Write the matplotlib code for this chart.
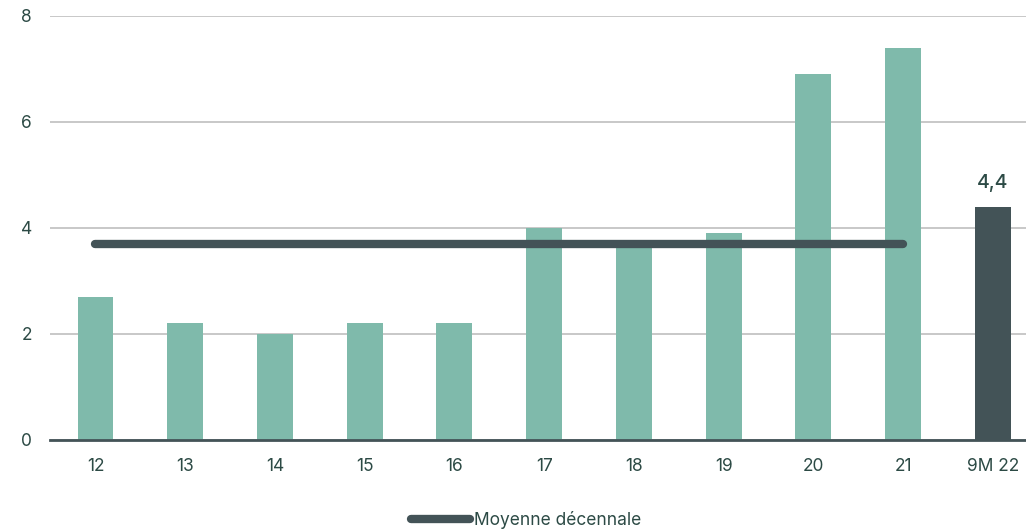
import matplotlib
matplotlib.use("Agg")
import matplotlib.pyplot as plt
import numpy as np

categories = ["12", "13", "14", "15", "16", "17", "18", "19", "20", "21", "9M 22"]
values = [2.7, 2.2, 2.0, 2.2, 2.2, 4.0, 3.7, 3.9, 6.9, 7.4, 4.4]
decade_avg = 3.7
avg_span = ["12", "21"]
highlight_label = "4,4"

BAR_COLOR = "#7fbaab"
DARK = "#435357"
TEXT = "#2c4a45"
GRID = "#bfbfbf"

plt.rcParams["font.family"] = ["Inter", "DejaVu Sans"]

fig = plt.figure(figsize=(10.26, 5.30), dpi=100)
ax = fig.add_axes([50 / 1026, 90 / 530, 976 / 1026, 424 / 530])

x = np.arange(len(categories))
colors = [BAR_COLOR] * (len(values) - 1) + [DARK]
ax.bar(x, values, width=0.40, color=colors, zorder=2)

# ten-year average, drawn over the bars
i0, i1 = categories.index(avg_span[0]), categories.index(avg_span[1])
ax.plot([x[i0], x[i1]], [decade_avg, decade_avg], color=DARK, lw=6,
        solid_capstyle="round", zorder=3, label="Moyenne décennale")

ax.text(x[-1], values[-1] + 0.27, highlight_label, ha="center", va="bottom",
        fontsize=14, fontweight="medium", color=TEXT)

ax.set_xlim(-0.507, 10.37)
ax.set_ylim(0, 8)
ax.set_yticks([0, 2, 4, 6, 8])
ax.set_xticks(x)
ax.set_xticklabels(categories)
ax.yaxis.grid(True, color=GRID, lw=1.2, zorder=0)
ax.set_axisbelow(True)
for side in ["top", "right", "left"]:
    ax.spines[side].set_visible(False)
ax.spines["bottom"].set_color(DARK)
ax.spines["bottom"].set_linewidth(2)
ax.spines["bottom"].set_zorder(4)
ax.tick_params(axis="both", length=0, labelsize=12.5, labelcolor=TEXT)
ax.tick_params(axis="y", pad=13)
ax.tick_params(axis="x", pad=13)

fig.legend(loc="lower center", bbox_to_anchor=(0.513, -0.027), frameon=False,
           fontsize=12.5, handlelength=3.4, handletextpad=0.2,
           labelcolor=TEXT)

fig.savefig("out.png", dpi=100)
